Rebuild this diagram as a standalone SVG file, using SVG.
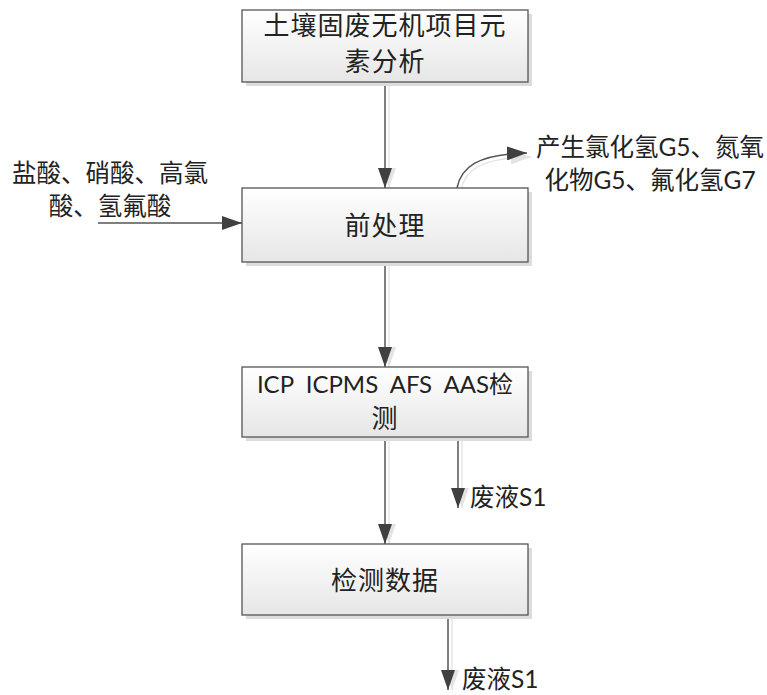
<svg xmlns="http://www.w3.org/2000/svg" width="767" height="695" viewBox="0 0 767 695">
<defs>
<linearGradient id="bg" x1="0" y1="0" x2="0" y2="1">
<stop offset="0" stop-color="#ffffff"/>
<stop offset="1" stop-color="#e6e6e6"/>
</linearGradient>
<marker id="ah" markerWidth="20" markerHeight="14" refX="20" refY="7" orient="auto" markerUnits="userSpaceOnUse">
<path d="M0,0 L20,7 L0,14 Z" fill="#404040"/>
</marker>
<marker id="ahs" markerWidth="20" markerHeight="14" refX="20" refY="7" orient="auto" markerUnits="userSpaceOnUse">
<path d="M0,0 L20,7 L0,14 Z" fill="#e3e3e3"/>
</marker>
</defs>
<style>
.box{fill:url(#bg);stroke:#555;stroke-width:1.3}
.sh{fill:#dcdcdc;stroke:none}
.t{font-family:Lato,"Noto Sans CJK SC",sans-serif;font-size:26px;fill:#222;text-anchor:middle;letter-spacing:1px}
.l{font-family:Lato,"Noto Sans CJK SC",sans-serif;font-size:24.5px;fill:#222}
.c{fill:none;stroke:#555;stroke-width:1.5;marker-end:url(#ah)}
.cs{fill:none;stroke:#e6e6e6;stroke-width:1.5;marker-end:url(#ahs)}
</style>
<g id="connectors">
<path class="cs" d="M389,82 V188"/>
<path class="cs" d="M389,262 V367"/>
<path class="cs" d="M389,437 V544"/>
<path class="cs" d="M462,437 V508"/>
<path class="cs" d="M452,615 V690"/>
<path class="cs" d="M461,190 C465,170 480,158 531,157"/>
<path class="c" d="M385,82 V188"/>
<path class="c" d="M385,262 V367"/>
<path class="c" d="M385,437 V544"/>
<path class="c" d="M458,437 V508"/>
<path class="c" d="M448,615 V690"/>
<path class="c" d="M98,223 H242"/>
<path class="c" d="M457,188 C461,168 476,154 527,153"/>
</g>
<g id="n1">
<rect class="sh" x="246" y="14" width="286" height="72"/>
<rect class="box" x="242" y="10" width="286" height="72"/>
<text class="t" x="385" y="35">土壤固废无机项目元</text>
<text class="t" x="385" y="71">素分析</text>
</g>
<g id="n2">
<rect class="sh" x="246" y="192" width="286" height="74"/>
<rect class="box" x="242" y="188" width="286" height="74"/>
<text class="t" x="385" y="235">前处理</text>
</g>
<g id="n3">
<rect class="sh" x="246" y="371" width="286" height="70"/>
<rect class="box" x="242" y="367" width="286" height="70"/>
<text class="t" x="385" y="393" xml:space="preserve" style="font-size:24px;letter-spacing:0">ICP  ICPMS  AFS  AAS检</text>
<text class="t" x="385" y="428">测</text>
</g>
<g id="n4">
<rect class="sh" x="246" y="548" width="286" height="71"/>
<rect class="box" x="242" y="544" width="286" height="71"/>
<text class="t" x="385" y="590">检测数据</text>
</g>
<g id="labels">
<text class="l" x="110" y="182" text-anchor="middle">盐酸、硝酸、高氯</text>
<text class="l" x="110" y="215" text-anchor="middle">酸、氢氟酸</text>
<text class="l" x="650" y="156" text-anchor="middle">产生氯化氢G5、氮氧</text>
<text class="l" x="650" y="189" text-anchor="middle">化物G5、氟化氢G7</text>
<text class="l" x="470" y="506">废液S1</text>
<text class="l" x="462" y="688">废液S1</text>
</g>
</svg>
